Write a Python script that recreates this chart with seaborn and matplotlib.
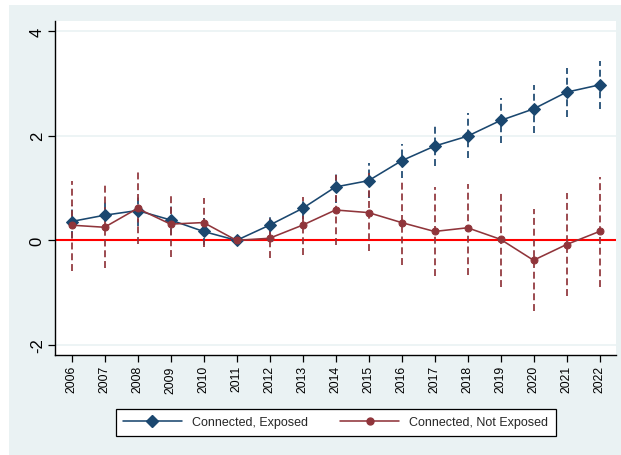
import matplotlib
matplotlib.use("Agg")
import matplotlib.pyplot as plt
from matplotlib.patches import Rectangle
from matplotlib.lines import Line2D
import seaborn as sns
import pandas as pd

# Event-study coefficients by year with 95% confidence bounds
years = [2006, 2007, 2008, 2009, 2010, 2011, 2012, 2013, 2014,
         2015, 2016, 2017, 2018, 2019, 2020, 2021, 2022]

exposed = [0.36, 0.48, 0.57, 0.39, 0.17, 0.00, 0.29, 0.61, 1.02,
           1.14, 1.52, 1.80, 1.99, 2.29, 2.51, 2.83, 2.97]
exposed_lo = [0.05, 0.18, 0.27, 0.11, -0.08, 0.00, 0.11, 0.41, 0.72,
              0.80, 1.20, 1.42, 1.57, 1.86, 2.05, 2.36, 2.50]
exposed_hi = [0.67, 0.78, 0.87, 0.67, 0.42, 0.00, 0.47, 0.81, 1.32,
              1.48, 1.84, 2.21, 2.43, 2.72, 2.97, 3.30, 3.43]

not_exposed = [0.29, 0.25, 0.61, 0.31, 0.34, 0.00, 0.04, 0.29, 0.58,
               0.53, 0.34, 0.17, 0.24, 0.02, -0.38, -0.08, 0.17]
not_exposed_lo = [-0.58, -0.53, -0.07, -0.32, -0.12, 0.00, -0.34, -0.28, -0.08,
                  -0.20, -0.48, -0.69, -0.67, -0.90, -1.35, -1.07, -0.90]
not_exposed_hi = [1.14, 1.05, 1.31, 0.88, 0.80, 0.00, 0.42, 0.83, 1.24,
                  1.28, 1.15, 1.02, 1.07, 0.95, 0.60, 0.91, 1.21]

y_ticks = [-2, 0, 2, 4]
series_names = ["Connected, Exposed", "Connected, Not Exposed"]

NAVY = "#1a476f"
MAROON = "#90353b"
BG = "#eaf2f3"

sns.set_style("white")
plt.rcParams["font.family"] = ["Liberation Sans", "DejaVu Sans"]

df = pd.DataFrame({
    "year": years * 2,
    "coef": exposed + not_exposed,
    "lo": exposed_lo + not_exposed_lo,
    "hi": exposed_hi + not_exposed_hi,
    "group": [series_names[0]] * len(years) + [series_names[1]] * len(years),
})

fig = plt.figure(figsize=(6.21, 4.56), dpi=100, facecolor="white")
# shaded graph region behind the plot
fig.patches.append(Rectangle((9 / 621, 0), 1 - 9 / 621, 1 - 6 / 456,
                             transform=fig.transFigure, facecolor=BG,
                             edgecolor="none", zorder=-10))

ax = fig.add_axes([55 / 621, 1 - 356 / 456, (616 - 55) / 621, (356 - 22) / 456])
ax.set_facecolor("white")

# grid and reference line
for yv in y_ticks:
    ax.axhline(yv, color=BG, lw=1.2, zorder=0.5)
ax.axhline(0, color="#ff0000", lw=1.5, zorder=1.5)

dash = (0, (4, 2.2))
styles = {
    series_names[0]: dict(color=NAVY, marker="D", ms=6.0, z=2),
    series_names[1]: dict(color=MAROON, marker="o", ms=5.0, z=2.2),
}

# confidence intervals
for name in series_names:
    sub = df[(df["group"] == name) & (df["hi"] != df["lo"])]
    st = styles[name]
    ax.vlines(sub["year"], sub["lo"], sub["hi"], colors=st["color"],
              linestyles=[dash], lw=1.25, zorder=st["z"])

# point estimates
for i, name in enumerate(series_names):
    st = styles[name]
    sub = df[df["group"] == name]
    sns.lineplot(data=sub, x="year", y="coef", ax=ax, color=st["color"],
                 marker=st["marker"], markersize=st["ms"],
                 markeredgecolor=st["color"], markerfacecolor=st["color"],
                 lw=1.15, zorder=3 + i, legend=False, errorbar=None)

ax.set_xlim(2005.5, 2022.5)
ax.set_ylim(-2.19, 4.19)
ax.set_xticks(years)
ax.set_xticklabels([str(y) for y in years], rotation=90, fontsize=8.8)
ax.set_yticks(y_ticks)
ax.set_yticklabels([str(v) for v in y_ticks], rotation=90, fontsize=12,
                   va="center")
ax.set_xlabel("")
ax.set_ylabel("")

for side in ["top", "right"]:
    ax.spines[side].set_visible(False)
for side in ["left", "bottom"]:
    ax.spines[side].set_color("#000000")
    ax.spines[side].set_linewidth(1.0)
ax.tick_params(axis="both", which="major", direction="out", length=4.8,
               width=0.9, color="#000000", labelcolor="#000000", pad=2.5,
               bottom=True, left=True)

handles = [
    Line2D([], [], color=NAVY, marker="D", ms=6.0, lw=1.15),
    Line2D([], [], color=MAROON, marker="o", ms=5.0, lw=1.15),
]
leg = fig.legend(handles, series_names, loc="center",
                 bbox_to_anchor=(335.5 / 621, 1 - 423.5 / 456),
                 ncol=2, fontsize=9, frameon=True, fancybox=False,
                 framealpha=1, facecolor="white", edgecolor="#000000",
                 handlelength=4.7, handletextpad=0.8, columnspacing=2.6,
                 borderpad=0.6, borderaxespad=0)
leg.get_frame().set_linewidth(0.9)

fig.savefig("out.png", dpi=100, facecolor="white")
